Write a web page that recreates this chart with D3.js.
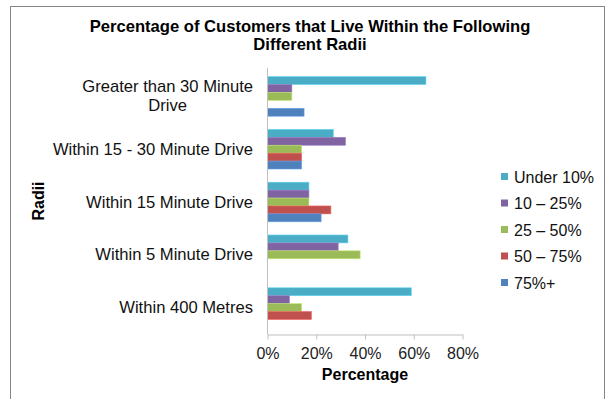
<!DOCTYPE html>
<html><head><meta charset="utf-8">
<script src="https://cdn.jsdelivr.net/npm/d3@7"></script>
<style>html,body{margin:0;padding:0;background:#fff;}svg{display:block;font-family:"Liberation Sans",Arial,sans-serif;}</style>
</head><body>
<svg id="chart" width="613" height="399"></svg>
<script>
const categories = ["Greater than 30 Minute Drive", "Within 15 - 30 Minute Drive", "Within 15 Minute Drive", "Within 5 Minute Drive", "Within 400 Metres"];
const seriesNames = ["Under 10%", "10 – 25%", "25 – 50%", "50 – 75%", "75%+"];
const under10 = [65, 27, 17, 33, 59];
const p10to25 = [10, 32, 17, 29, 9];
const p25to50 = [10, 14, 17, 38, 14];
const p50to75 = [null, 14, 26, null, 18];
const p75plus = [15, 14, 22, null, null];
const seriesColors = ["#4BACC6", "#8064A2", "#9BBB59", "#C0504D", "#4F81BD"];
const xTicks = [0, 20, 40, 60, 80];
const titleLines = ["Percentage of Customers that Live Within the Following", "Different Radii"];
const xTitle = "Percentage";
const yTitle = "Radii";

const seriesValues = [under10, p10to25, p25to50, p50to75, p75plus];
const svg = d3.select("#chart");

// outer border
svg.append("rect").attr("x", 10.5).attr("y", 6.5).attr("width", 594).attr("height", 400)
  .attr("fill", "none").attr("stroke", "#868686").attr("stroke-width", 1);

const x = d3.scaleLinear().domain([0, 80]).range([267.5, 462.5]);
const y = d3.scaleBand().domain(categories).range([70, 334]).paddingInner(0.25).paddingOuter(0.125);
const ys = d3.scaleBand().domain(seriesNames).range([0, y.bandwidth()]);

// title
svg.append("text").attr("x", 310).attr("y", 0).attr("text-anchor", "middle")
  .attr("font-weight", "bold").attr("font-size", 16.6).attr("fill", "#000")
  .selectAll("tspan").data(titleLines).join("tspan")
  .attr("x", 310).attr("y", (d, i) => 31.5 + i * 18.5).text(d => d);

// bars
seriesNames.forEach((s, si) => {
  svg.append("g").selectAll("rect")
    .data(categories.map((c, ci) => ({c, v: seriesValues[si][ci]})).filter(d => d.v != null))
    .join("rect")
    .attr("x", x(0))
    .attr("y", d => y(d.c) + ys(s))
    .attr("width", d => x(d.v) - x(0))
    .attr("height", ys.bandwidth())
    .attr("fill", seriesColors[si])
    .attr("stroke", d3.color(seriesColors[si]).brighter(0.6))
    .attr("stroke-width", 0.6);
});

// x axis
const xAxis = d3.axisBottom(x).tickValues(xTicks).tickFormat(d => d + "%").tickSize(5).tickSizeOuter(0);
const gx = svg.append("g").attr("transform", "translate(0,334.5)").call(xAxis);
gx.select(".domain").attr("stroke", "#BFBFBF");
gx.selectAll(".tick line").attr("stroke", "#BFBFBF");
gx.selectAll(".tick text").attr("font-size", 16).attr("fill", "#222").attr("font-family", "Liberation Sans, Arial, sans-serif").attr("dy", "1.03em");

// y axis line
svg.append("line").attr("x1", x(0)).attr("x2", x(0)).attr("y1", 68).attr("y2", 334.5).attr("stroke", "#BFBFBF");

// category labels with wrap
const maxW = 210;
categories.forEach(c => {
  const t = svg.append("text").attr("font-size", 16.6).attr("fill", "#111");
  const words = c.split(" ");
  let lines = [], cur = [];
  const probe = t.append("tspan");
  words.forEach(w => {
    const test = cur.concat([w]).join(" ");
    probe.text(test);
    if (probe.node().getComputedTextLength() > maxW && cur.length) { lines.push(cur.join(" ")); cur = [w]; }
    else cur.push(w);
  });
  lines.push(cur.join(" "));
  let bw = 0;
  lines.forEach(l => { probe.text(l); bw = Math.max(bw, probe.node().getComputedTextLength()); });
  probe.remove();
  const cx = 253 - bw / 2;
  const cy = y(c) + y.bandwidth() / 2;
  const lh = 19;
  t.attr("text-anchor", "middle").selectAll("tspan").data(lines).join("tspan")
    .attr("x", cx).attr("y", (d, i) => cy + (i - (lines.length - 1) / 2) * lh + 5.5).text(d => d);
});

// axis titles
svg.append("text").attr("x", 365).attr("y", 380).attr("text-anchor", "middle")
  .attr("font-weight", "bold").attr("font-size", 16).attr("fill", "#000").text(xTitle);
svg.append("text").attr("transform", "translate(44,201) rotate(-90)").attr("text-anchor", "middle")
  .attr("font-weight", "bold").attr("font-size", 16).attr("fill", "#000").text(yTitle);

// legend
const lg = svg.append("g");
seriesNames.forEach((s, i) => {
  const ly = 177 + i * 26.5;
  lg.append("rect").attr("x", 501).attr("y", ly - 4).attr("width", 7).attr("height", 7).attr("fill", seriesColors[i]);
  lg.append("text").attr("x", 514).attr("y", ly + 5.5).attr("font-size", 16).attr("fill", "#111").text(s);
});
</script>
</body></html>
